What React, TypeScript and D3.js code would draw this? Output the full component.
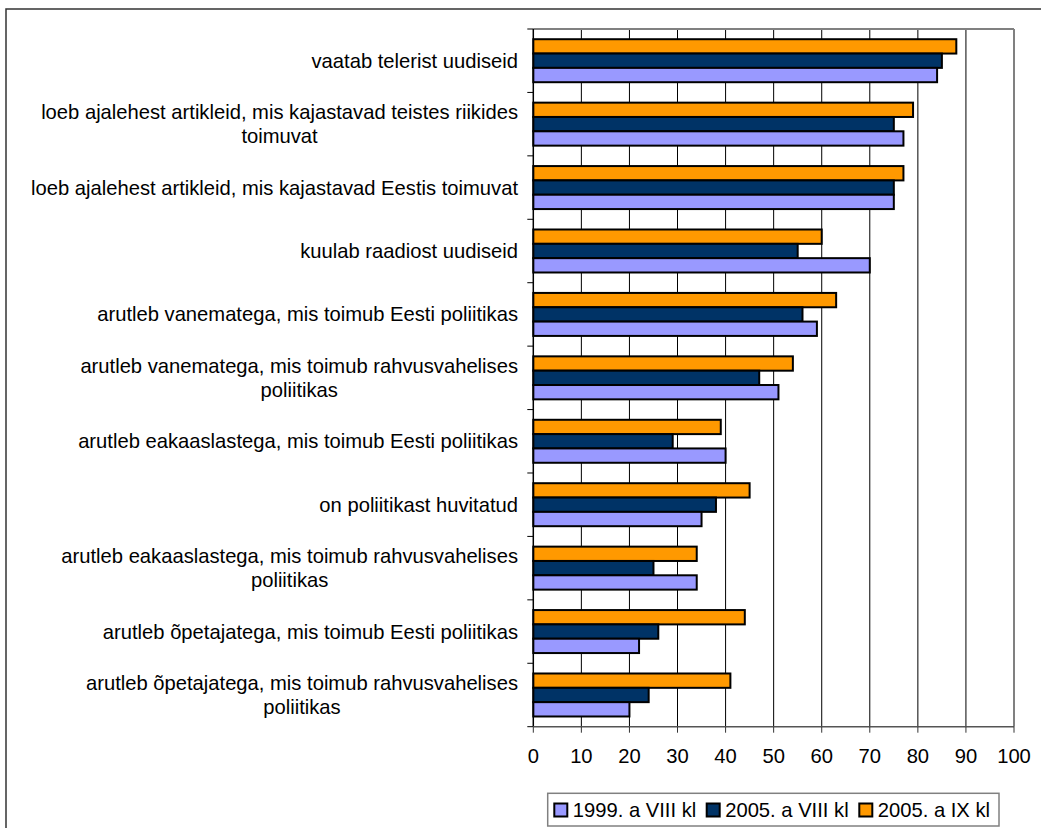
import React from "react";
import * as d3 from "d3";

const categories: string[][] = [
  ["vaatab telerist uudiseid"],
  ["loeb ajalehest artikleid, mis kajastavad teistes riikides", "toimuvat"],
  ["loeb ajalehest artikleid, mis kajastavad Eestis toimuvat"],
  ["kuulab raadiost uudiseid"],
  ["arutleb vanematega, mis toimub Eesti poliitikas"],
  ["arutleb vanematega, mis toimub rahvusvahelises", "poliitikas"],
  ["arutleb eakaaslastega, mis toimub Eesti poliitikas"],
  ["on poliitikast huvitatud"],
  ["arutleb eakaaslastega, mis toimub rahvusvahelises", "poliitikas"],
  ["arutleb õpetajatega, mis toimub Eesti poliitikas"],
  ["arutleb õpetajatega, mis toimub rahvusvahelises", "poliitikas"],
];

const s1999VIII: number[] = [84, 77, 75, 70, 59, 51, 40, 35, 34, 22, 20];
const s2005VIII: number[] = [85, 75, 75, 55, 56, 47, 29, 38, 25, 26, 24];
const s2005IX: number[] = [88, 79, 77, 60, 63, 54, 39, 45, 34, 44, 41];

const seriesNames: string[] = ["1999. a VIII kl", "2005. a VIII kl", "2005. a IX kl"];
const seriesColors: string[] = ["#9999FF", "#003366", "#FF9900"];
const xTicks: number[] = [0, 10, 20, 30, 40, 50, 60, 70, 80, 90, 100];

const FONT = "'Liberation Sans', Arial, sans-serif";
const FS = 20.2;

function measure(text: string): number {
  const c = document.createElement("canvas");
  const ctx = c.getContext("2d");
  if (!ctx) return text.length * 9;
  ctx.font = `${FS}px 'Liberation Sans', Arial, sans-serif`;
  return ctx.measureText(text).width;
}

export default function App() {
  const W = 1041;
  const H = 828;
  const left = 533.3;
  const right = 1014;
  const top = 29;
  const bottom = 726.7;

  const x = d3.scaleLinear().domain([0, 100]).range([left, right]);
  const idx = categories.map((_, i) => String(i));
  const y = d3.scaleBand<string>().domain(idx).range([top, bottom]).paddingInner(0).paddingOuter(0);
  const seriesData = [s2005IX, s2005VIII, s1999VIII];
  const seriesColorOrder = [seriesColors[2], seriesColors[1], seriesColors[0]];
  const inner = d3
    .scaleBand<string>()
    .domain(["0", "1", "2"])
    .range([0, y.bandwidth()])
    .paddingInner(0)
    .paddingOuter(0.713);

  const labelRight = 518;
  const lineH = 23.5;

  const boundaries = d3.range(categories.length + 1).map((i) => top + i * y.step());

  return (
    <svg
      width={W}
      height={H}
      style={{ position: "absolute", left: 0, top: 0, background: "#fff" }}
      fontFamily={FONT}
    >
      <rect x={0} y={0} width={W} height={H} fill="#fff" />
      {/* outer chart border */}
      <rect x={6} y={9} width={W + 20} height={H + 20} fill="none" stroke="#333" strokeWidth={1.5} />

      {/* gridlines */}
      {xTicks.slice(1, -1).map((t) => (
        <line key={"g" + t} x1={x(t)} x2={x(t)} y1={top} y2={bottom} stroke="#000" strokeWidth={1} />
      ))}
      {/* plot border top/right */}
      <line x1={left} x2={right} y1={top} y2={top} stroke="#808080" strokeWidth={2} />
      <line x1={right} x2={right} y1={top} y2={bottom} stroke="#808080" strokeWidth={2} />

      {/* bars */}
      {seriesData.map((vals, si) =>
        vals.map((v, ci) => (
          <rect
            key={`b${si}-${ci}`}
            x={x(0)}
            y={(y(String(ci)) as number) + (inner(String(si)) as number)}
            width={x(v) - x(0)}
            height={inner.bandwidth()}
            fill={seriesColorOrder[si]}
            stroke="#000"
            strokeWidth={2}
          />
        ))
      )}

      {/* axes */}
      <line x1={left} x2={left} y1={top} y2={bottom} stroke="#000" strokeWidth={1.5} />
      {boundaries.map((b, i) => (
        <line key={"yt" + i} x1={left - 6} x2={left} y1={b} y2={b} stroke="#000" strokeWidth={1} />
      ))}
      <line x1={left} x2={right} y1={bottom} y2={bottom} stroke="#555" strokeWidth={1.5} />
      {xTicks.map((t) => (
        <g key={"xt" + t}>
          <line x1={x(t)} x2={x(t)} y1={bottom} y2={bottom + 6} stroke="#333" strokeWidth={1} />
          <text x={x(t)} y={bottom + 36} textAnchor="middle" fontSize={FS} fill="#000">
            {t}
          </text>
        </g>
      ))}

      {/* category labels */}
      {categories.map((lines, ci) => {
        const cy = (y(String(ci)) as number) + y.bandwidth() / 2;
        const maxW = Math.max(...lines.map(measure));
        const cx = labelRight - maxW / 2;
        const startY = cy - ((lines.length - 1) * lineH) / 2 + 7;
        return (
          <text key={"c" + ci} fontSize={FS} fill="#000" textAnchor="middle">
            {lines.map((ln, li) => (
              <tspan key={li} x={cx} y={startY + li * lineH}>
                {ln}
              </tspan>
            ))}
          </text>
        );
      })}

      {/* legend */}
      <rect x={547.7} y={793.3} width={451.3} height={32.7} fill="#fff" stroke="#808080" strokeWidth={1.5} />
      {seriesNames.map((n, i) => {
        const lx = [554.3, 706.7, 859.3][i];
        return (
          <g key={"l" + i}>
            <rect x={lx} y={803.5} width={13} height={13} fill={seriesColors[i]} stroke="#000" strokeWidth={2} />
            <text x={lx + 18.5} y={817} fontSize={FS} fill="#000">
              {n}
            </text>
          </g>
        );
      })}
    </svg>
  );
}
